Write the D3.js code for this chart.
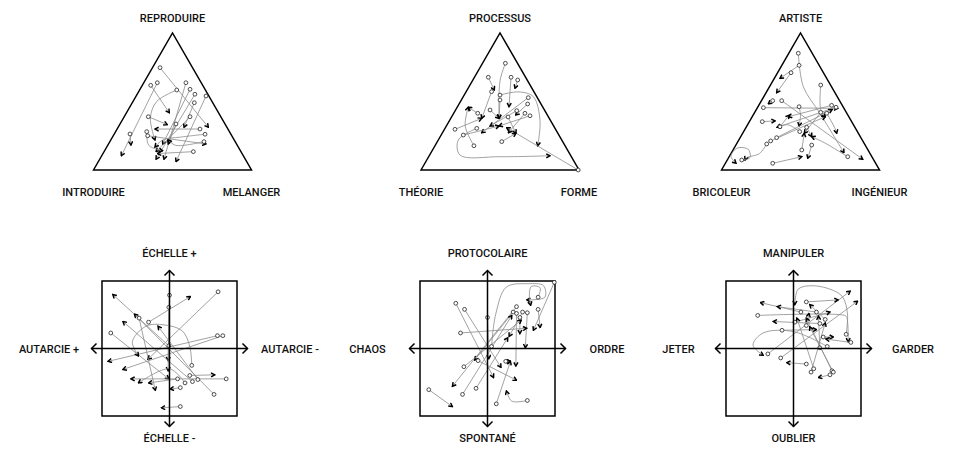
<!DOCTYPE html>
<html>
<head>
<meta charset="utf-8">
<script src="https://cdn.jsdelivr.net/npm/d3@7"></script>
<style>
  html, body { margin: 0; padding: 0; background: #fff; }
  svg { display: block; }
  text { font-family: Roboto, "Liberation Sans", Arial, sans-serif; font-size: 11px; font-weight: 500; fill: #111; }
</style>
</head>
<body>
<svg id="chart" width="954" height="461"></svg>
<script>
// ---------- Labels ----------
const reproduireLabels = ["REPRODUIRE", "INTRODUIRE", "MELANGER"];
const processusLabels = ["PROCESSUS", "THÉORIE", "FORME"];
const artisteLabels = ["ARTISTE", "BRICOLEUR", "INGÉNIEUR"];
const echelleLabels = ["ÉCHELLE +", "ÉCHELLE -", "AUTARCIE +", "AUTARCIE -"];
const protocolaireLabels = ["PROTOCOLAIRE", "SPONTANÉ", "CHAOS", "ORDRE"];
const manipulerLabels = ["MANIPULER", "OUBLIER", "JETER", "GARDER"];

// ---------- Trajectories (first point = start circle, last point = arrow head) ----------
// Triangles: x = 0..100 along the base (left to right), y = 0..100 from base to apex
const reproduireArrows = [
  [[42.1,74.7],[72.7,31.2]],
  [[40.4,63.7],[17.6,10.4]],
  [[36.2,61.8],[48.0,41.8]],
  [[58.5,63.7],[44.6,7.8]],
  [[52.7,58.4],[40,50],[36,38],[38.9,21.9]],
  [[61.1,58.9],[43.8,18.8]],
  [[64.2,55.3],[39.6,7.8]],
  [[71.2,54.0],[52.2,6.1]],
  [[63.8,49.1],[57.3,31.2]],
  [[34.7,38.9],[46.7,33.1]],
  [[61.1,38.9],[39.6,13.4]],
  [[52.2,33.6],[47.3,19.0]],
  [[23.1,26.3],[23.7,18.2]],
  [[33.7,28.0],[35,18],[43.8,14]],
  [[34.3,25.0],[71.2,19.0]],
  [[67.4,29.9],[38.9,29.9]],
  [[70.6,26.1],[55,24],[44,22],[38.9,16.8]],
  [[69.9,20.7],[52,18],[47.3,22]],
  [[63.2,13.4],[40.5,12.0]]
];
const processusArrows = [
  [[53.4,77.9],[50,65],[49.4,37.7]],
  [[42.6,67.7],[46.4,58.4]],
  [[57.0,67.7],[55.7,46.2]],
  [[61.2,65.7],[59.5,59.6]],
  [[44.7,57.2],[38.4,37.7]],
  [[50.0,54.7],[62,57],[71.1,53.5],[75.3,36.5],[73.9,17.7]],
  [[50.0,51.1],[49.4,37.7]],
  [[67.9,52.8],[38.4,27.2]],
  [[67.5,48.2],[59.9,40.1]],
  [[35.9,41.4],[29.9,45.8]],
  [[43.7,43.8],[49.4,37.7]],
  [[60.6,43.3],[43.7,32.1]],
  [[65.8,41.4],[55.3,27.2]],
  [[69.0,39.6],[49.4,32.1]],
  [[21.5,29.7],[38.4,37.7]],
  [[35.3,30.4],[23.6,21.9],[24.7,10.9],[50,9.7],[81.6,10.4]],
  [[26.8,25.5],[49.4,32.1]],
  [[51.1,20.7],[60.1,26.8]],
  [[33.5,17.7],[28,32],[29.9,45.8]],
  [[99.5,0],[54.2,30.9]],
  [[55.1,38.7],[60.1,26.8]]
];
const artisteArrows = [
  [[48.6,85.2],[51.8,60.8],[62.3,41.4],[77.5,12.6]],
  [[49.1,76.4],[37.0,66.9]],
  [[44.0,71.0],[34.9,56.4]],
  [[62.8,62.0],[62.8,44],[65.7,38.9]],
  [[32.4,50.6],[29.6,48.2]],
  [[38.1,50.6],[89.4,7.8]],
  [[26.5,45.5],[73.5,45.0]],
  [[49.1,46.2],[50,40],[49.1,32.1]],
  [[69.7,47.2],[42.3,38.9]],
  [[72.5,45.8],[35.3,31.2]],
  [[62.8,42.1],[52.4,26.8]],
  [[66.6,41.4],[72,30],[72.9,26.8]],
  [[25.8,35.3],[33.9,35.8]],
  [[37.0,31.6],[42.9,40.1]],
  [[53.9,31.2],[57.1,24.3]],
  [[49.5,28.0],[42,33],[35.3,31.2]],
  [[34.9,23.6],[70,44]],
  [[31.1,21.2],[65.7,38.9]],
  [[28.6,19.0],[24,12],[16,9],[14.9,7.3]],
  [[12.8,7.3],[18,9],[17,15],[10,16],[6,10],[9.2,4.9]],
  [[57.1,18.2],[54.6,8.5]],
  [[50.8,14.6],[52.4,26.8]],
  [[79.9,9.7],[65,20],[57.1,24.3]],
  [[32.4,4.9],[50.8,9.7]]
];
// Squares: x = -10..10 (left axis to right axis), y = -10..10 (bottom to top)
const echelleArrows = [
  [[7.2,8.4],[-3.2,-1.6]],
  [[0,7.9],[-0.2,-1.8]],
  [[-0.1,6.1],[-0.2,-3.3]],
  [[-4.5,4.5],[-2.1,-6.2]],
  [[-3.1,3.9],[3.1,7.7]],
  [[-8.7,2.3],[-0.1,-4.5]],
  [[7.1,1.9],[-9.1,-1.9]],
  [[7.9,1.9],[-6.9,-3.1]],
  [[-0.1,0.4],[-8.4,8.0]],
  [[3.3,-2.5],[3.0,0.3],[1.9,2.6],[-0.8,3.5],[-3.5,3.3],[-5.5,1.0],[-4.6,-1.1]],
  [[3.0,-4.0],[6.7,-3.9]],
  [[1.2,-4.5],[-3.1,-5.1]],
  [[2.3,-5.1],[0,-3],[-4.6,-5.1]],
  [[3.4,-4.9],[-6.9,4.0]],
  [[4.2,-4.6],[-1.7,3.3]],
  [[8.4,-4.5],[-5.7,-4.5]],
  [[1.6,-5.8],[0.1,-6.0]],
  [[6.6,-6.8],[-5.2,5.1]],
  [[1.6,-8.6],[-1.2,-8.8]]
];
const protocolaireArrows = [
  [[9.9,9.8],[6.8,2.7]],
  [[-4.7,6.7],[0.9,-4.3]],
  [[-3.4,5.8],[2.0,-2.8]],
  [[4.3,6.2],[-5.2,-5.6]],
  [[3.8,5.4],[-1.9,-1.7]],
  [[4.3,5.2],[4.2,-2.6]],
  [[5.2,5.4],[3.2,1.8]],
  [[5.9,5.3],[5.6,0.1]],
  [[7.5,5.8],[7.8,3.1]],
  [[4.8,4.6],[4.8,2.2]],
  [[0,4.6],[0.2,-1.5]],
  [[-4.0,2.3],[5.8,3.0]],
  [[0.6,0.3],[1.2,5],[2.8,9.1],[6,9.6],[8.3,9.3],[8.5,7.6],[5.8,7.2]],
  [[7.5,7.6],[7.8,9.0],[6.5,9.2],[6.2,7.8],[6.4,6.4]],
  [[-3.5,-2.7],[5.0,4.2]],
  [[-1.4,-1.8],[4.3,-4.7]],
  [[2.7,-1.9],[3.4,-1.9]],
  [[-8.7,-6.1],[-5.2,-8.6]],
  [[-3.7,-6.8],[3.6,4.9]],
  [[-1.7,-5.9],[3.0,1.6]],
  [[1.3,-8.2],[3.4,-1.9]],
  [[5.9,-7.7],[3.6,-7.8],[2.8,-6.3]]
];
const manipulerArrows = [
  [[-3.8,-0.8],[8.4,8.5]],
  [[-1.9,-1.4],[9.5,7.0]],
  [[1.9,6.9],[6.6,7.2]],
  [[1.1,5.4],[-4.9,6.8]],
  [[3.4,5.4],[-2.4,6.2]],
  [[7.8,2.1],[8.0,5.1],[7.3,7.6],[5.9,8.6],[2.9,9.3],[0.7,8.8],[0.2,6.5]],
  [[-5.3,4.9],[7.6,4.9],[7.9,4.6],[8.1,1.0]],
  [[0.2,3.9],[5.4,5.4]],
  [[4.7,4.3],[2.4,6.5]],
  [[1.9,3.4],[2.3,5.2]],
  [[3.9,3.7],[-3.0,4.0]],
  [[-1.7,2.7],[3.4,2.8]],
  [[4.4,1.7],[5.9,1.7]],
  [[8.5,0.9],[4.8,1.4]],
  [[5.0,0.3],[0,2.5],[-4.5,2.3],[-6.0,0.5],[-4.5,-1.0]],
  [[3.9,0.1],[3.7,4.8]],
  [[1.9,-2.3],[-1.0,-2.1]],
  [[3.0,-3.0],[0.5,4.5]],
  [[2.6,-3.5],[4.7,3.8]],
  [[5.7,-3.3],[1.9,4.5]],
  [[5.9,-3.5],[2.4,3.2]],
  [[5.4,-3.9],[3.7,-4.3]]
];

// ---------- Layout ----------
const svg = d3.select("#chart");
const defs = svg.append("defs");
defs.append("marker")
  .attr("id", "head").attr("viewBox", "0 0 6 6")
  .attr("refX", 5).attr("refY", 3)
  .attr("markerWidth", 5.5).attr("markerHeight", 5.5)
  .attr("markerUnits", "userSpaceOnUse").attr("orient", "auto")
  .append("path").attr("d", "M1,0.8 L5,3 L1,5.2")
  .attr("fill", "none").attr("stroke", "#000").attr("stroke-width", 1.6);

const lineGen = d3.line().curve(d3.curveCatmullRom.alpha(0.5));

function drawArrows(g, arrows, x, y) {
  g.append("g").selectAll("path").data(arrows).join("path")
    .attr("d", d => lineGen(d.map(p => [x(p[0]), y(p[1])])))
    .attr("fill", "none").attr("stroke", "#8a8a8a").attr("stroke-width", 0.8)
    .attr("marker-end", "url(#head)");
  g.append("g").selectAll("circle").data(arrows).join("circle")
    .attr("cx", d => x(d[0][0])).attr("cy", d => y(d[0][1]))
    .attr("r", 1.9).attr("fill", "#fff").attr("stroke", "#222").attr("stroke-width", 0.8);
}

const triW = 158, triTop = 33, triBottom = 170;
const triangles = [
  { cx: 172.5, labels: reproduireLabels, arrows: reproduireArrows },
  { cx: 500, labels: processusLabels, arrows: processusArrows },
  { cx: 800.5, labels: artisteLabels, arrows: artisteArrows }
];
triangles.forEach(t => {
  const g = svg.append("g");
  const x = d3.scaleLinear().domain([0, 100]).range([t.cx - triW / 2, t.cx + triW / 2]);
  const y = d3.scaleLinear().domain([0, 100]).range([triBottom, triTop]);
  g.append("path")
    .attr("d", d3.line()([[x(0), y(0)], [x(50), y(100)], [x(100), y(0)]]) + "Z")
    .attr("fill", "none").attr("stroke", "#000").attr("stroke-width", 1.5)
    .attr("stroke-linejoin", "miter");
  drawArrows(g, t.arrows, x, y);
  g.append("text").attr("x", x(50)).attr("y", 22).attr("text-anchor", "middle").text(t.labels[0]);
  g.append("text").attr("x", x(0)).attr("y", 196).attr("text-anchor", "middle").text(t.labels[1]);
  g.append("text").attr("x", x(100)).attr("y", 196).attr("text-anchor", "middle").text(t.labels[2]);
});

const sqSize = 135, sqTop = 281;
const squares = [
  { cx: 169.5, labels: echelleLabels, arrows: echelleArrows, lOff: 120.5, rOff: 120.5 },
  { cx: 487.5, labels: protocolaireLabels, arrows: protocolaireArrows, lOff: 120, rOff: 119.5 },
  { cx: 793.5, labels: manipulerLabels, arrows: manipulerArrows, lOff: 115, rOff: 119.5 }
];
function chevron(g, tx, ty, dir) {
  const s = 5;
  let d;
  if (dir === "up") d = [[tx - s, ty + s], [tx, ty], [tx + s, ty + s]];
  if (dir === "down") d = [[tx - s, ty - s], [tx, ty], [tx + s, ty - s]];
  if (dir === "left") d = [[tx + s, ty - s], [tx, ty], [tx + s, ty + s]];
  if (dir === "right") d = [[tx - s, ty - s], [tx, ty], [tx - s, ty + s]];
  g.append("path").attr("d", d3.line()(d)).attr("fill", "none")
    .attr("stroke", "#000").attr("stroke-width", 1.5);
}
squares.forEach(s => {
  const g = svg.append("g");
  const x = d3.scaleLinear().domain([-10, 10]).range([s.cx - sqSize / 2, s.cx + sqSize / 2]);
  const y = d3.scaleLinear().domain([-10, 10]).range([sqTop + sqSize, sqTop]);
  g.append("rect").attr("x", x(-10)).attr("y", y(10))
    .attr("width", x(10) - x(-10)).attr("height", y(-10) - y(10))
    .attr("fill", "none").attr("stroke", "#000").attr("stroke-width", 1.5);
  drawArrows(g, s.arrows, x, y);
  const ext = 10.5;
  g.append("line").attr("x1", x(0)).attr("x2", x(0)).attr("y1", y(10) - ext).attr("y2", y(-10) + ext)
    .attr("stroke", "#000").attr("stroke-width", 1.5);
  g.append("line").attr("x1", x(-10) - ext).attr("x2", x(10) + ext).attr("y1", y(0)).attr("y2", y(0))
    .attr("stroke", "#000").attr("stroke-width", 1.5);
  chevron(g, x(0), y(10) - ext, "up");
  chevron(g, x(0), y(-10) + ext, "down");
  chevron(g, x(-10) - ext, y(0), "left");
  chevron(g, x(10) + ext, y(0), "right");
  g.append("text").attr("x", x(0)).attr("y", 257).attr("text-anchor", "middle").text(s.labels[0]);
  g.append("text").attr("x", x(0)).attr("y", 442).attr("text-anchor", "middle").text(s.labels[1]);
  g.append("text").attr("x", s.cx - s.lOff).attr("y", y(0) + 4).attr("text-anchor", "middle").text(s.labels[2]);
  g.append("text").attr("x", s.cx + s.rOff).attr("y", y(0) + 4).attr("text-anchor", "middle").text(s.labels[3]);
});
</script>
</body>
</html>
